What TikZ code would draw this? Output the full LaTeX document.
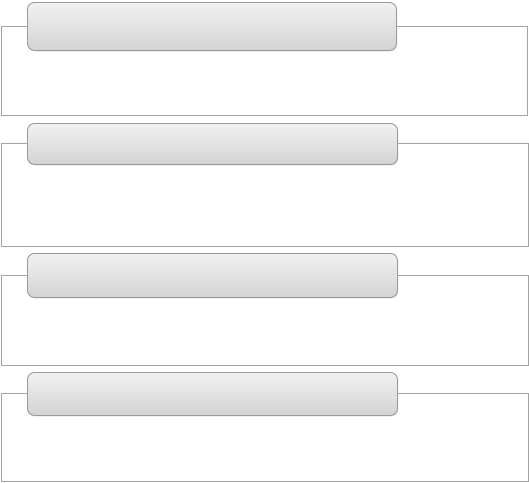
\documentclass[tikz,border=0pt]{standalone}
\usetikzlibrary{shadows}
\definecolor{outerline}{HTML}{A3A3A3}
\definecolor{headline}{HTML}{9A9A9A}
\definecolor{headtop}{HTML}{F1F1F1}
\definecolor{headbot}{HTML}{D3D3D3}
\tikzset{
  x=1pt,y=1pt,
  outerbox/.style={draw=outerline, line width=0.9pt, fill=white, rectangle, anchor=north west, inner sep=0pt},
  headbox/.style={draw=headline, line width=0.9pt, rectangle, rounded corners=7pt, anchor=north west, inner sep=0pt,
    top color=headtop, bottom color=headbot,
    drop shadow={opacity=0.18, shadow xshift=1pt, shadow yshift=-1.2pt}},
}
\begin{document}
\begin{tikzpicture}
\useasboundingbox (0,0) rectangle (529,-482);
\node[outerbox, minimum width=526.5pt, minimum height=89pt] (o1) at (0.5,-26) {};
\node[headbox, minimum width=369pt, minimum height=48pt] (h1) at (27,-2) {};
\node[outerbox, minimum width=527.5pt, minimum height=103pt] (o2) at (0.5,-143) {};
\node[headbox, minimum width=370pt, minimum height=41pt] (h2) at (27,-123) {};
\node[outerbox, minimum width=527.5pt, minimum height=90pt] (o3) at (0.5,-275) {};
\node[headbox, minimum width=370pt, minimum height=44pt] (h3) at (27,-253) {};
\node[outerbox, minimum width=527.5pt, minimum height=88pt] (o4) at (0.5,-393) {};
\node[headbox, minimum width=370pt, minimum height=43pt] (h4) at (27,-372) {};
\end{tikzpicture}
\end{document}
